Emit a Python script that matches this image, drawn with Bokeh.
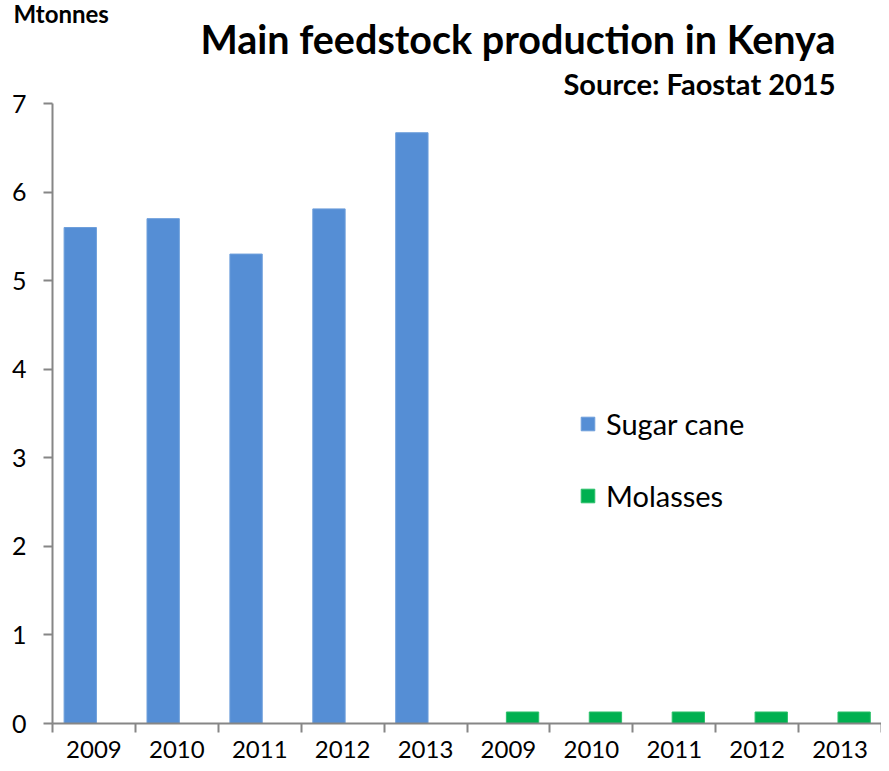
from bokeh.plotting import figure
from bokeh.models import (Range1d, FixedTicker, ColumnDataSource, Legend, LegendItem, Title)
from bokeh.transform import dodge
from bokeh.embed import file_html
from bokeh.resources import INLINE

years = ["2009", "2010", "2011", "2012", "2013"]
sugar_cane = [5.60, 5.70, 5.30, 5.81, 6.67]
molasses = [0.13, 0.13, 0.13, 0.13, 0.13]
y_ticks = [0, 1, 2, 3, 4, 5, 6, 7]

FONT = "Lato"
n = len(years) * 2
cat_labels = years + years
pos = list(range(n))

p = figure(frame_width=829, frame_height=620, output_backend="svg", toolbar_location=None,
           x_range=Range1d(-0.5, n - 0.5), y_range=Range1d(0, 7), title=None,
           min_border_left=52, min_border_top=103, min_border_right=0, min_border_bottom=40)
p.outline_line_color = None
p.xgrid.visible = False
p.ygrid.visible = False
p.background_fill_color = "white"

src_s = ColumnDataSource(dict(x=pos[:5], top=sugar_cane))
src_m = ColumnDataSource(dict(x=pos[5:], top=molasses))
r_s = p.vbar(x=dodge("x", -0.165), top="top", width=0.39, source=src_s,
             fill_color="#558ED5", line_color="#6E9FDB", line_width=1)
r_m = p.vbar(x=dodge("x", 0.17), top="top", width=0.39, source=src_m,
             fill_color="#00B050", line_color="#2CC06A", line_width=1)

# x axis
xa = p.xaxis[0]
xa.ticker = FixedTicker(ticks=pos, minor_ticks=[i - 0.5 for i in range(n + 1)])
xa.major_label_overrides = {i: cat_labels[i] for i in pos}
xa.major_tick_out = 0
xa.major_tick_in = 0
xa.minor_tick_out = 9
xa.minor_tick_in = 0
xa.minor_tick_line_color = "#868686"
xa.minor_tick_line_width = 2
xa.axis_line_color = "#868686"
xa.axis_line_width = 2
xa.major_label_text_font = FONT
xa.major_label_text_font_size = "24px"
xa.major_label_text_color = "black"
xa.major_label_standoff = 8

# y axis
ya = p.yaxis[0]
ya.ticker = FixedTicker(ticks=y_ticks)
ya.major_tick_out = 9
ya.major_tick_in = 0
ya.minor_tick_out = 0
ya.minor_tick_in = 0
ya.major_tick_line_color = "#868686"
ya.major_tick_line_width = 2
ya.axis_line_color = "#868686"
ya.axis_line_width = 2
ya.major_label_text_font = FONT
ya.major_label_text_font_size = "25px"
ya.major_label_text_color = "black"
ya.major_label_standoff = 17

legend = Legend(items=[LegendItem(label="Sugar cane", renderers=[r_s]),
                       LegendItem(label="Molasses", renderers=[r_m])],
                location=(527, 210), orientation="vertical")
legend.glyph_width = 17
legend.glyph_height = 17
legend.label_text_font = FONT
legend.label_text_font_size = "29px"
legend.label_text_color = "black"
legend.label_standoff = 10
legend.spacing = 37
legend.padding = 0
legend.margin = 0
legend.border_line_color = None
legend.background_fill_alpha = 0
p.add_layout(legend, "center")

p.add_layout(Title(text="Source: Faostat 2015", align="right", offset=46, standoff=5,
                   text_font=FONT, text_font_style="bold", text_font_size="29px",
                   text_color="black"), "above")
p.add_layout(Title(text="Main feedstock production in Kenya", align="right", offset=46, standoff=-1,
                   text_font=FONT, text_font_style="bold", text_font_size="39.5px",
                   text_color="black"), "above")
p.add_layout(Title(text="Mtonnes", align="left", offset=-39, standoff=-29,
                   text_font=FONT, text_font_style="bold", text_font_size="24px",
                   text_color="black"), "above")

open("out.html", "w").write(file_html(p, INLINE))
